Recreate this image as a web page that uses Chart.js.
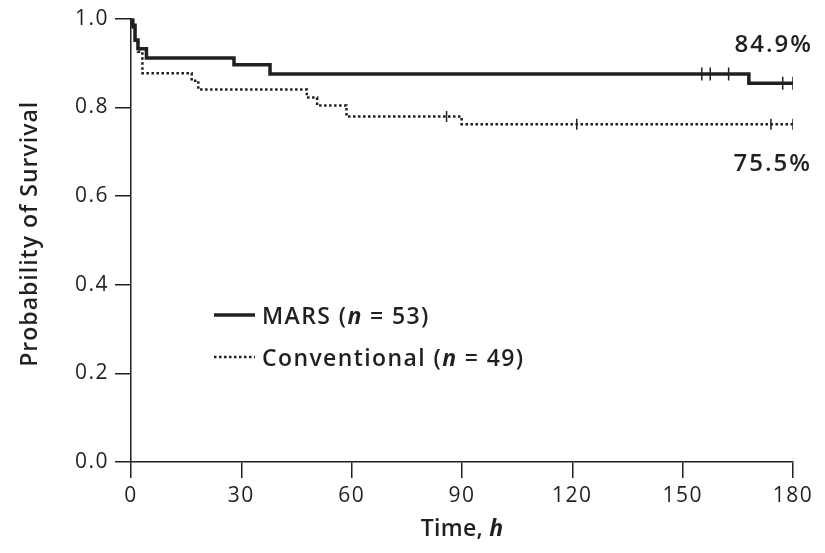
<!DOCTYPE html>
<html>
<head>
<meta charset="utf-8">
<script src="https://cdn.jsdelivr.net/npm/chart.js@4.4.0/dist/chart.umd.min.js"></script>
<style>
  html, body { margin: 0; padding: 0; background: #fff; }
</style>
</head>
<body>
<canvas id="km" width="825" height="553"></canvas>
<script>
// Kaplan-Meier steps (time in hours, survival probability)
const marsTimes = [0, 0.5, 1.1, 1.9, 4.2, 28, 37.8, 168, 180];
const marsSurv = [1.0, 0.985, 0.952, 0.932, 0.911, 0.896, 0.875, 0.854, 0.854];
const marsCensored = [155.2, 157.5, 162.5, 177.2, 180];

const convTimes = [0, 0.5, 1.1, 1.9, 3.1, 16.5, 18.3, 47.8, 50.6, 58.6, 89.9, 180];
const convSurv = [1.0, 0.98, 0.945, 0.925, 0.877, 0.86, 0.84, 0.822, 0.804, 0.779, 0.762, 0.762];
const convCensored = [85.8, 121.2, 174, 180];

const xTicks = [0, 30, 60, 90, 120, 150, 180];
const yTicks = [0, 0.2, 0.4, 0.6, 0.8, 1.0];

const endLabels = ["84.9%", "75.5%"];
const legendNames = ["MARS", "Conventional"];
const legendN = [53, 49];

const INK = "#231f20";
const FONT = "'Open Sans', 'Noto Sans', sans-serif";

function toPoints(times, surv) {
  return times.map((t, i) => ({ x: t, y: surv[i] }));
}

// value of a step curve at time t (used to put censor ticks on the curve)
function survAt(times, surv, t) {
  let v = surv[0];
  for (let i = 0; i < times.length; i++) {
    if (times[i] <= t) v = surv[i];
  }
  return v;
}

function censorPoints(times, surv, cens) {
  return cens.map((t) => ({ x: t, y: survAt(times, surv, t) }));
}

// draw a line of text made of several runs with different fonts
function drawRuns(ctx, runs, x, y, align, spacing) {
  ctx.letterSpacing = (spacing || 0) + "px";
  let total = 0;
  runs.forEach((r) => {
    ctx.font = r.font;
    total += ctx.measureText(r.text).width;
  });
  total -= spacing || 0;
  let cx = align === "center" ? x - total / 2 : align === "right" ? x - total : x;
  ctx.textAlign = "left";
  ctx.textBaseline = "middle";
  runs.forEach((r) => {
    ctx.font = r.font;
    ctx.fillText(r.text, cx, y);
    cx += ctx.measureText(r.text).width;
  });
  ctx.letterSpacing = "0px";
}

// wider tracking for the tick labels, like the printed figure
const spacingPlugin = {
  id: "tickSpacing",
  beforeLayout(chart) { chart.ctx.letterSpacing = "1.5px"; },
  beforeDraw(chart) { chart.ctx.letterSpacing = "1.5px"; },
  afterDatasetsDraw(chart) { chart.ctx.letterSpacing = "0px"; },
};

const textPlugin = {
  id: "kmText",
  afterDraw(chart) {
    const ctx = chart.ctx;
    const area = chart.chartArea;
    ctx.save();
    ctx.fillStyle = INK;

    // axis titles
    const semi = `600 23px ${FONT}`;
    const semiIt = `italic 700 23px ${FONT}`;
    drawRuns(ctx, [{ text: "Time, ", font: semi }, { text: "h", font: semiIt }],
      (area.left + area.right) / 2, 529, "center", 0.3);

    ctx.save();
    ctx.translate(30, (area.top + area.bottom) / 2 - 6);
    ctx.rotate(-Math.PI / 2);
    drawRuns(ctx, [{ text: "Probability of Survival", font: `600 23px ${FONT}` }], 0, 0, "center", 1);
    ctx.restore();

    // end-of-curve percentages
    const pctFont = `600 24px ${FONT}`;
    drawRuns(ctx, [{ text: endLabels[0], font: pctFont }], 811, 45, "right", 2);
    drawRuns(ctx, [{ text: endLabels[1], font: pctFont }], 810, 164, "right", 2);

    // legend
    const legFont = `600 23px ${FONT}`;
    const legIt = `italic 700 23px ${FONT}`;
    const rows = [315, 357];
    rows.forEach((ly, i) => {
      ctx.save();
      ctx.strokeStyle = INK;
      ctx.beginPath();
      if (i === 0) {
        ctx.lineWidth = 3.5;
        ctx.setLineDash([]);
      } else {
        ctx.lineWidth = 2.5;
        ctx.setLineDash([2.5, 2.5]);
      }
      ctx.moveTo(214, ly);
      ctx.lineTo(255, ly);
      ctx.stroke();
      ctx.restore();
      drawRuns(ctx, [
        { text: legendNames[i] + " (", font: legFont },
        { text: "n", font: legIt },
        { text: " = " + legendN[i] + ")", font: legFont },
      ], 262, ly + 2, "left", 1.4);
    });
    ctx.restore();
  },
};

new Chart(document.getElementById("km"), {
  type: "line",
  data: {
    datasets: [
      {
        label: "MARS",
        data: toPoints(marsTimes, marsSurv),
        stepped: true,
        borderColor: INK,
        borderWidth: 3.5,
        pointRadius: 0,
        fill: false,
      },
      {
        label: "MARS censored",
        type: "scatter",
        data: censorPoints(marsTimes, marsSurv, marsCensored),
        pointStyle: "line",
        rotation: 90,
        pointRadius: 6.5,
        borderColor: INK,
        borderWidth: 1.5,
        showLine: false,
      },
      {
        label: "Conventional",
        data: toPoints(convTimes, convSurv),
        stepped: true,
        borderColor: INK,
        borderWidth: 2.5,
        borderDash: [2.5, 2.5],
        pointRadius: 0,
        fill: false,
      },
      {
        label: "Conventional censored",
        type: "scatter",
        data: censorPoints(convTimes, convSurv, convCensored),
        pointStyle: "line",
        rotation: 90,
        pointRadius: 5.5,
        borderColor: INK,
        borderWidth: 1.5,
        showLine: false,
      },
    ],
  },
  options: {
    responsive: false,
    devicePixelRatio: 1,
    animation: false,
    layout: { padding: { top: 18, right: 32, left: 0, bottom: 0 } },
    plugins: {
      legend: { display: false },
      tooltip: { enabled: false },
    },
    scales: {
      x: {
        type: "linear",
        min: 0,
        max: 180,
        afterFit: (scale) => { scale.height = 91; },
        afterBuildTicks: (scale) => { scale.ticks = xTicks.map((v) => ({ value: v })); },
        ticks: {
          color: INK,
          padding: 5,
          font: { family: FONT, size: 21 },
          maxRotation: 0,
        },
        grid: {
          drawOnChartArea: false,
          drawTicks: true,
          tickLength: 16,
          color: INK,
          lineWidth: 1.5,
        },
        border: { display: true, color: INK, width: 1.5 },
      },
      y: {
        type: "linear",
        min: 0,
        max: 1,
        afterFit: (scale) => { scale.width = 131; },
        afterBuildTicks: (scale) => { scale.ticks = yTicks.map((v) => ({ value: v })); },
        ticks: {
          color: INK,
          padding: 6,
          font: { family: FONT, size: 21 },
          callback: (v) => Number(v).toFixed(1),
        },
        grid: {
          drawOnChartArea: false,
          drawTicks: true,
          tickLength: 16,
          color: INK,
          lineWidth: 1.5,
        },
        border: { display: true, color: INK, width: 1.5 },
      },
    },
  },
  plugins: [spacingPlugin, textPlugin],
});
</script>
</body>
</html>
